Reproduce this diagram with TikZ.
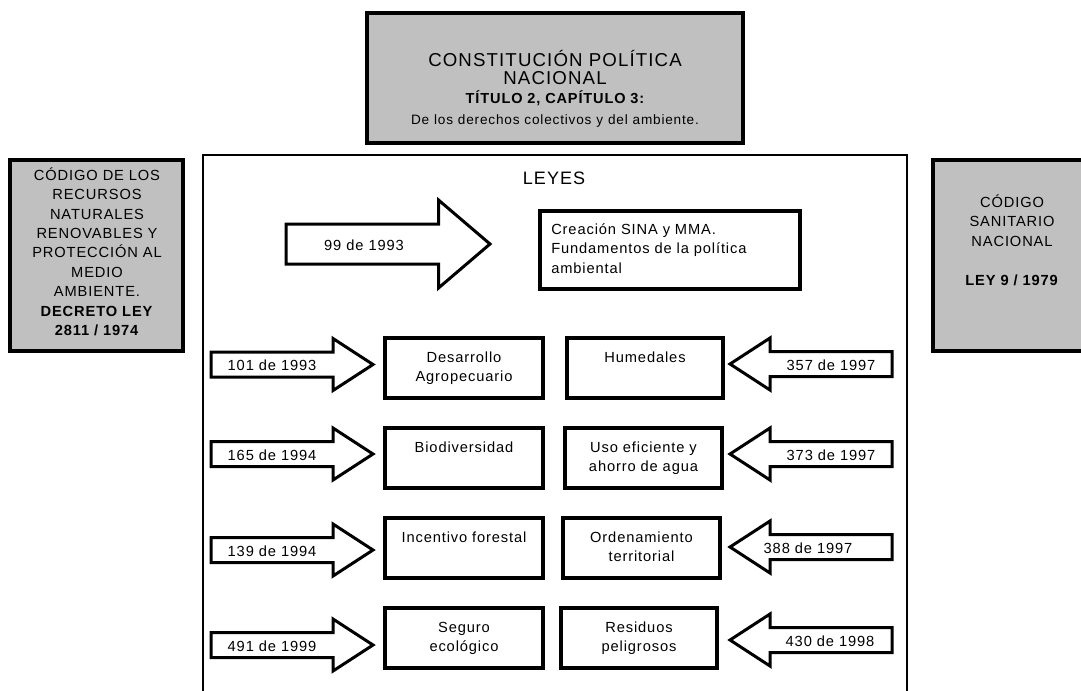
\documentclass[tikz,border=0pt]{standalone}
\usepackage{fontspec}
\setmainfont{Liberation Sans}[LetterSpace=6]
\definecolor{panelgray}{RGB}{192,192,192}

% block arrow with its number:
% #1 label name, #2 tail x, #3 head base x, #4 tip x, #5 centre y,
% #6 half shaft, #7 half head, #8 label x, #9 label text
\newcommand{\blockarrow}[9]{%
  \draw[blockline] (#2,#5-#6) -- (#3,#5-#6) -- (#3,#5-#7) -- (#4,#5)
    -- (#3,#5+#7) -- (#3,#5+#6) -- (#2,#5+#6) -- cycle;
  \node[lawnum] (#1) at (#8,#5+1) {#9};
}

\tikzset{
  panel/.style={draw, line width=2.6pt, fill=panelgray, inner sep=0pt,
    outer sep=0pt, anchor=north west},
  lawbox/.style={draw, line width=2.6pt, fill=white, inner sep=0pt,
    outer sep=0pt, anchor=north west, minimum height=45pt},
  leyesframe/.style={draw, line width=1.9pt, inner sep=0pt, outer sep=0pt,
    anchor=north west},
  blockline/.style={draw, line width=2.25pt, line join=miter, fill=white},
  lawnum/.style={font=\fontsize{11}{13}\selectfont, inner sep=0pt,
    text height=7.9pt, text depth=0pt},
  bodytext/.style={font=\fontsize{11}{14.6}\selectfont, align=center,
    inner sep=0pt, anchor=base},
}

\begin{document}
\begin{tikzpicture}[x=0.75pt, y=-0.75pt]
\clip (0,0) rectangle (1081,690);

% frame of the laws
\node[leyesframe, minimum width=528pt, minimum height=420pt] (marco) at (203,155) {};
\node[font=\fontsize{13.5}{16}\selectfont, inner sep=0pt, anchor=base] (leyes) at (554,184.4) {LEYES};

% constitution
\node[panel, minimum width=282pt, minimum height=97.5pt] (cpn) at (367,13) {};
\node[font=\fontsize{14}{13.5}\selectfont, align=center, text width=270pt,
  inner sep=0pt, anchor=base] (cpntitle) at (555,66.2)
  {CONSTITUCIÓN POLÍTICA\\NACIONAL};
\node[font=\fontsize{10.9}{15.6}\selectfont, align=center, text width=270pt,
  inner sep=0pt, anchor=base] (cpnsub) at (555,103.2)
  {{\bfseries TÍTULO 2, CAPÍTULO 3:}\\{\fontsize{10.2}{15.6}\selectfont De los derechos colectivos y del ambiente.}};

% side codes
\node[panel, minimum width=129.75pt, minimum height=143.25pt] (crnr) at (10,160) {};
\node[bodytext, font=\fontsize{11}{14.55}\selectfont, text width=124pt] (crnrtext) at (97,180.3)
  {CÓDIGO DE LOS\\RECURSOS\\NATURALES\\RENOVABLES Y\\PROTECCIÓN AL\\MEDIO\\AMBIENTE.\\
   \textbf{DECRETO LEY}\\\textbf{2811 / 1974}};

\node[panel, minimum width=118.5pt, minimum height=143.25pt] (csn) at (933,160) {};
\node[bodytext, font=\fontsize{11}{14.6}\selectfont, text width=112pt] (csntext) at (1012,207.3)
  {CÓDIGO\\SANITARIO\\NACIONAL\\\mbox{}\\\textbf{LEY 9 / 1979}};

% law 99 of 1993
\blockarrow{l99}{286}{438.5}{490}{244}{20}{44}{364}{99 de 1993}
\node[lawbox, minimum width=195pt, minimum height=58.5pt] (sina) at (540,211) {};
\node[bodytext, align=left, text width=190pt, anchor=base west] (sinatext) at (551,234.3)
  {Creación SINA y MMA.\\Fundamentos de la política\\ambiental};

% left column
\node[lawbox, minimum width=118.5pt] (agro) at (385,338) {};
\node[lawbox, minimum width=118.5pt] (bio) at (385,428) {};
\node[lawbox, minimum width=118.5pt] (forest) at (385,518) {};
\node[lawbox, minimum width=118.5pt] (seguro) at (385,608) {};
\node[bodytext, text width=115pt] (agrotext) at (464,362.3) {Desarrollo\\Agropecuario};
\node[bodytext, text width=115pt] (biotext) at (464,452.3) {Biodiversidad};
\node[bodytext, text width=115pt] (foresttext) at (464,542.3) {Incentivo forestal};
\node[bodytext, text width=115pt] (segurotext) at (464,632.3) {Seguro\\ecológico};

\blockarrow{l101}{211}{333}{373}{364.5}{12.5}{26}{272}{101 de 1993}
\blockarrow{l165}{211}{333}{373}{454}{12.5}{26}{272}{165 de 1994}
\blockarrow{l139}{211}{333}{373}{550}{12.5}{26}{272}{139 de 1994}
\blockarrow{l491}{211}{333}{373}{645}{12.5}{26}{272}{491 de 1999}

% right column
\node[lawbox, minimum width=117pt] (humed) at (567,338) {};
\node[lawbox, minimum width=117.75pt] (agua) at (565,428) {};
\node[lawbox, minimum width=117.75pt] (orden) at (563,518) {};
\node[lawbox, minimum width=117pt] (resid) at (561,608) {};
\node[bodytext, text width=115pt] (humedtext) at (645,362.3) {Humedales};
\node[bodytext, text width=115pt] (aguatext) at (643.5,452.3) {Uso eficiente y\\ahorro de agua};
\node[bodytext, text width=115pt] (ordentext) at (641.5,542.3) {Ordenamiento\\territorial};
\node[bodytext, text width=115pt] (residtext) at (639,632.3) {Residuos\\peligrosos};

\blockarrow{l357}{892}{770}{730}{364}{12.5}{26}{831}{357 de 1997}
\blockarrow{l373}{892}{770}{730}{454}{12.5}{26}{831}{373 de 1997}
\blockarrow{l388}{892}{770}{730}{547}{12.5}{26}{808}{388 de 1997}
\blockarrow{l430}{892}{770}{730}{640}{12.5}{26}{830}{430 de 1998}
\end{tikzpicture}
\end{document}
